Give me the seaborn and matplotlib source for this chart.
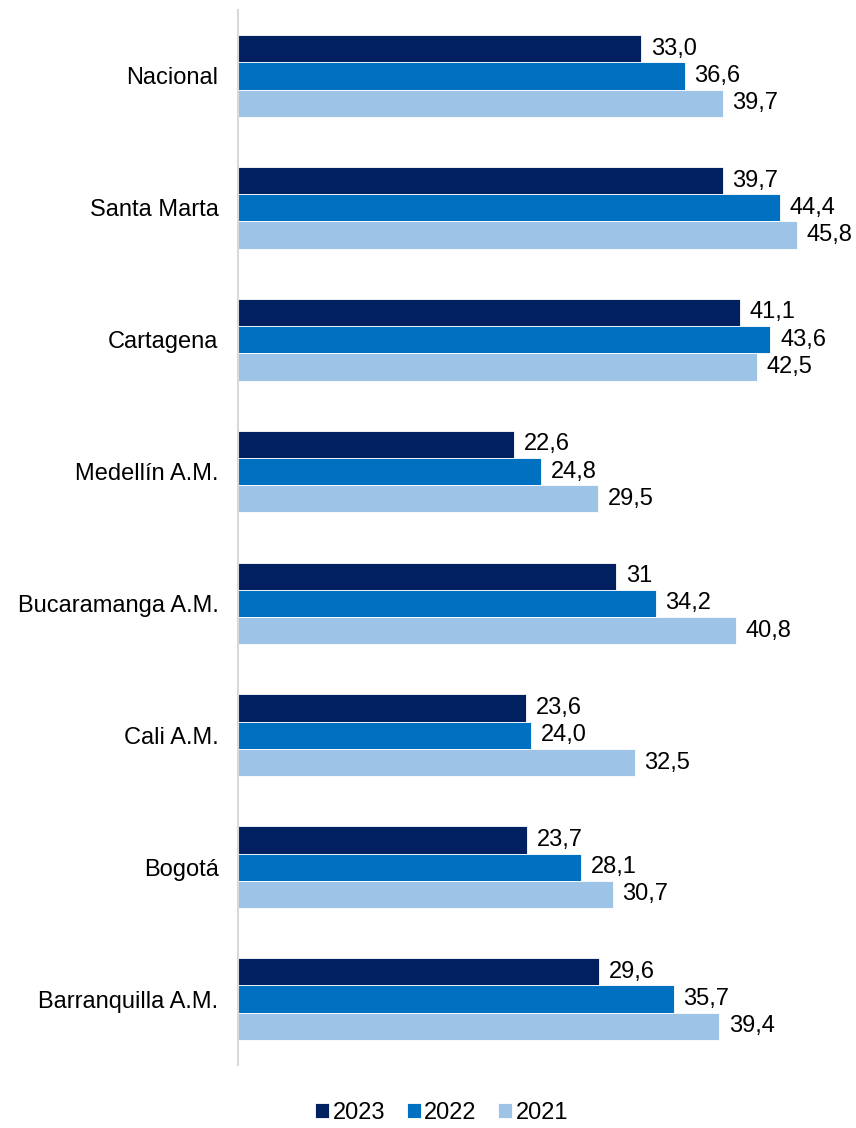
import matplotlib
matplotlib.use("Agg")
import matplotlib.pyplot as plt
import seaborn as sns
import pandas as pd

categories = ["Nacional", "Santa Marta", "Cartagena", "Medellín A.M.",
              "Bucaramanga A.M.", "Cali A.M.", "Bogotá", "Barranquilla A.M."]
years = ["2023", "2022", "2021"]
v2023 = [33.0, 39.7, 41.1, 22.6, 31.0, 23.6, 23.7, 29.6]
v2022 = [36.6, 44.4, 43.6, 24.8, 34.2, 24.0, 28.1, 35.7]
v2021 = [39.7, 45.8, 42.5, 29.5, 40.8, 32.5, 30.7, 39.4]
l2023 = ["33,0", "39,7", "41,1", "22,6", "31", "23,6", "23,7", "29,6"]
l2022 = ["36,6", "44,4", "43,6", "24,8", "34,2", "24,0", "28,1", "35,7"]
l2021 = ["39,7", "45,8", "42,5", "29,5", "40,8", "32,5", "30,7", "39,4"]
colors = ["#002060", "#0070C0", "#9DC3E6"]

sns.set_theme(style="white")
plt.rcParams["font.family"] = ["Liberation Sans", "DejaVu Sans"]
FS = 17

rows = []
for y, vals in zip(years, [v2023, v2022, v2021]):
    for c, v in zip(categories, vals):
        rows.append({"cat": c, "year": y, "val": v})
df = pd.DataFrame(rows)

fig = plt.figure(figsize=(8.56, 11.28), dpi=100)
ax = fig.add_axes([238/856, 1 - 1065/1128, (824-238)/856, (1065-10)/1128])
sns.barplot(data=df, y="cat", x="val", hue="year", hue_order=years,
            order=categories, palette=colors, orient="h", width=0.62,
            saturation=1, edgecolor="white", linewidth=0.6, ax=ax, legend=True)

for cont, labs in zip(ax.containers, [l2023, l2022, l2021]):
    ax.bar_label(cont, labels=labs, padding=7, fontsize=FS, color="#000000")

ax.set_xlim(0, 48)
ax.set_ylim(7.5, -0.5)
ax.set_xlabel("")
ax.set_ylabel("")
ax.set_xticks([])
ax.tick_params(axis="y", length=0, pad=14, labelsize=FS, labelcolor="#000000")
for s in ["top", "right", "bottom"]:
    ax.spines[s].set_visible(False)
ax.spines["left"].set_color("#D9D9D9")
ax.spines["left"].set_linewidth(1.5)

handles, labels = ax.get_legend_handles_labels()
ax.legend_.remove()
fig.legend(handles, labels, loc="center", bbox_to_anchor=(0.516, 1 - 1113/1128),
           ncol=3, frameon=False, fontsize=FS, handlelength=0.6,
           handleheight=0.6, handletextpad=0.15, columnspacing=0.9,
           labelcolor="#000000")

fig.savefig("out.png", dpi=100)
